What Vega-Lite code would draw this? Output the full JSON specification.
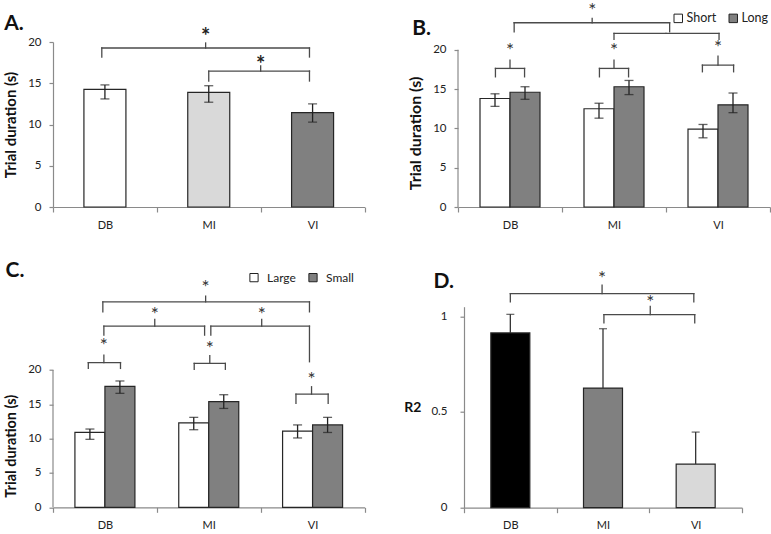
{
  "$schema": "https://vega.github.io/schema/vega-lite/v6.json",
  "padding": {"left": 3, "top": 2, "right": 0, "bottom": 0},
  "autosize": {"type": "pad"},
  "bounds": "flush",
  "columns": 2,
  "spacing": {"row": 99.7, "column": 93},
  "resolve": {"scale": {"x": "independent", "y": "independent", "fill": "independent"}, "legend": {"fill": "independent"}},
  "config": {
    "view": {"stroke": null},
    "font": "Lato",
    "axis": {"grid": false, "domainColor": "#8a8a8a", "tickColor": "#8a8a8a", "domainWidth": 1.2, "tickWidth": 1.2, "labelColor": "#222222", "labelFont": "Lato", "labelFontSize": 11.5, "titleFont": "Lato", "titleFontWeight": "bold", "titleColor": "#111111"},
    "axisX": {"tickBand": "extent", "tickSize": 5, "labelPadding": 7, "labelAngle": 0, "title": null, "labelFontSize": 11},
    "axisY": {"tickSize": 4, "labelPadding": 8},
    "legend": {"labelFont": "Lato", "labelColor": "#222222"}
  },
  "concat": [
    {
      "width": 311.5, "height": 165,
      "resolve": {"scale": {"x": "independent"}},
      "layer": [
        {
          "data": {"values": [
            {"cat": "DB", "v": 14.25, "lo": 13.1, "hi": 14.8},
            {"cat": "MI", "v": 13.9, "lo": 12.7, "hi": 14.7},
            {"cat": "VI", "v": 11.45, "lo": 10.3, "hi": 12.5}
          ]},
          "layer": [
            {"mark": {"type": "bar", "stroke": "#262626", "strokeWidth": 1.2, "size": 42},
             "encoding": {
               "x": {"field": "cat", "type": "nominal", "scale": {"domain": ["DB", "MI", "VI"], "paddingInner": 0, "paddingOuter": 0}},
               "y": {"field": "v", "type": "quantitative", "scale": {"domain": [0, 20], "nice": false}, "axis": {"values": [0, 5, 10, 15, 20], "title": "Trial duration (s)", "titleFontSize": 15, "titlePadding": 9}},
               "fill": {"field": "cat", "type": "nominal", "scale": {"domain": ["DB", "MI", "VI"], "range": ["#ffffff", "#d9d9d9", "#808080"]}, "legend": null}
             }},
            {"mark": {"type": "rule", "color": "#222222", "strokeWidth": 1.3},
             "encoding": {"x": {"field": "cat", "type": "nominal"}, "y": {"field": "lo", "type": "quantitative"}, "y2": {"field": "hi"}}},
            {"mark": {"type": "tick", "color": "#222222", "thickness": 1.3, "size": 9},
             "encoding": {"x": {"field": "cat", "type": "nominal"}, "y": {"field": "lo", "type": "quantitative"}}},
            {"mark": {"type": "tick", "color": "#222222", "thickness": 1.3, "size": 9},
             "encoding": {"x": {"field": "cat", "type": "nominal"}, "y": {"field": "hi", "type": "quantitative"}}}
          ]
        },
        {
          "data": {"values": [
            {"a": 0.47, "b": 2.47, "m": 1.47, "y": 19.27, "la": 18.18, "lb": 18.18, "pk": 19.88, "s": 21.1, "t": "*"},
            {"a": 1.5, "b": 2.47, "m": 2.0, "y": 16.48, "la": 15.27, "lb": 15.27, "pk": 17.1, "s": 17.7, "t": "*"}
          ]},
          "layer": [
            {"mark": {"type": "rule", "color": "#4a4a4a", "strokeWidth": 1.3, "strokeCap": "square"},
             "encoding": {"x": {"field": "a", "type": "quantitative", "scale": {"domain": [0, 3], "nice": false}, "axis": null}, "x2": {"field": "b"}, "y": {"field": "y", "type": "quantitative"}}},
            {"mark": {"type": "rule", "color": "#4a4a4a", "strokeWidth": 1.3, "strokeCap": "square"},
             "encoding": {"x": {"field": "a", "type": "quantitative"}, "y": {"field": "y", "type": "quantitative"}, "y2": {"field": "la"}}},
            {"mark": {"type": "rule", "color": "#4a4a4a", "strokeWidth": 1.3, "strokeCap": "square"},
             "encoding": {"x": {"field": "b", "type": "quantitative"}, "y": {"field": "y", "type": "quantitative"}, "y2": {"field": "lb"}}},
            {"mark": {"type": "rule", "color": "#4a4a4a", "strokeWidth": 1.3, "strokeCap": "square"},
             "encoding": {"x": {"field": "m", "type": "quantitative"}, "y": {"field": "y", "type": "quantitative"}, "y2": {"field": "pk"}}},
            {"mark": {"type": "text", "fill": "#222222", "fontSize": 22, "fontWeight": "bold", "baseline": "middle", "dy": 4},
             "encoding": {"x": {"field": "m", "type": "quantitative"}, "y": {"field": "s", "type": "quantitative"}, "text": {"field": "t"}}},
            {"data": {"values": [{"lbl": "A.", "px": -0.47, "py": 21.45}]},
             "mark": {"type": "text", "fill": "#111111", "fontSize": 21, "fontWeight": "bold", "align": "left", "baseline": "alphabetic"},
             "encoding": {"x": {"field": "px", "type": "quantitative"}, "y": {"field": "py", "type": "quantitative"}, "text": {"field": "lbl"}}}
          ]
        }
      ]
    },
    {
      "width": 312, "height": 165,
      "resolve": {"scale": {"x": "independent"}},
      "layer": [
        {
          "data": {"values": [
            {"cat": "DB", "cond": "Short", "v": 13.8, "lo": 12.8, "hi": 14.4},
            {"cat": "DB", "cond": "Long", "v": 14.6, "lo": 13.7, "hi": 15.3},
            {"cat": "MI", "cond": "Short", "v": 12.5, "lo": 11.3, "hi": 13.2},
            {"cat": "MI", "cond": "Long", "v": 15.3, "lo": 14.3, "hi": 16.1},
            {"cat": "VI", "cond": "Short", "v": 9.9, "lo": 8.8, "hi": 10.5},
            {"cat": "VI", "cond": "Long", "v": 13.0, "lo": 12.0, "hi": 14.5}
          ]},
          "encoding": {
            "x": {"field": "cat", "type": "nominal", "scale": {"domain": ["DB", "MI", "VI"], "paddingInner": 0, "paddingOuter": 0}}
          },
          "layer": [
            {"transform": [{"filter": "datum.cond === 'Short'"}],
             "mark": {"type": "bar", "stroke": "#262626", "strokeWidth": 1.2, "size": 30, "xOffset": -15},
             "encoding": {
               "y": {"field": "v", "type": "quantitative", "scale": {"domain": [0, 20.99], "nice": false}, "axis": {"values": [0, 5, 10, 15, 20], "domain": false, "title": "Trial duration (s)", "titleFontSize": 16, "titlePadding": 9, "titleY": 91}},
               "fill": {"field": "cond", "type": "nominal", "scale": {"domain": ["Short", "Long"], "range": ["#ffffff", "#808080"]},
                 "legend": {"orient": "none", "legendX": 214, "legendY": -30, "direction": "horizontal", "title": null, "symbolType": "square", "symbolSize": 72, "symbolStrokeColor": "#222222", "symbolStrokeWidth": 1, "labelFontSize": 12.5, "columnPadding": 10, "labelOffset": 2}}
             }},
            {"transform": [{"filter": "datum.cond === 'Long'"}],
             "mark": {"type": "bar", "stroke": "#262626", "strokeWidth": 1.2, "size": 30, "xOffset": 15},
             "encoding": {
               "y": {"field": "v", "type": "quantitative"},
               "fill": {"field": "cond", "type": "nominal", "scale": {"domain": ["Short", "Long"], "range": ["#ffffff", "#808080"]},
                 "legend": {"orient": "none", "legendX": 214, "legendY": -30, "direction": "horizontal", "title": null, "symbolType": "square", "symbolSize": 72, "symbolStrokeColor": "#222222", "symbolStrokeWidth": 1, "labelFontSize": 12.5, "columnPadding": 10, "labelOffset": 2}}
             }},
            {"transform": [{"filter": "datum.cond === 'Short'"}],
             "mark": {"type": "rule", "color": "#222222", "strokeWidth": 1.3, "xOffset": -15},
             "encoding": {"y": {"field": "lo", "type": "quantitative"}, "y2": {"field": "hi"}}},
            {"transform": [{"filter": "datum.cond === 'Long'"}],
             "mark": {"type": "rule", "color": "#222222", "strokeWidth": 1.3, "xOffset": 15},
             "encoding": {"y": {"field": "lo", "type": "quantitative"}, "y2": {"field": "hi"}}},
            {"transform": [{"filter": "datum.cond === 'Short'"}],
             "mark": {"type": "tick", "color": "#222222", "thickness": 1.3, "size": 9, "xOffset": -15},
             "encoding": {"y": {"field": "lo", "type": "quantitative"}}},
            {"transform": [{"filter": "datum.cond === 'Short'"}],
             "mark": {"type": "tick", "color": "#222222", "thickness": 1.3, "size": 9, "xOffset": -15},
             "encoding": {"y": {"field": "hi", "type": "quantitative"}}},
            {"transform": [{"filter": "datum.cond === 'Long'"}],
             "mark": {"type": "tick", "color": "#222222", "thickness": 1.3, "size": 9, "xOffset": 15},
             "encoding": {"y": {"field": "lo", "type": "quantitative"}}},
            {"transform": [{"filter": "datum.cond === 'Long'"}],
             "mark": {"type": "tick", "color": "#222222", "thickness": 1.3, "size": 9, "xOffset": 15},
             "encoding": {"y": {"field": "hi", "type": "quantitative"}}}
          ]
        },
        {
          "data": {"values": [
            {"a": 0.54, "b": 2.035, "m": 1.29, "y": 23.44, "la": 22.29, "lb": 22.29, "pk": 24.0, "s": 25.27, "t": "*"},
            {"a": 1.5, "b": 2.51, "m": 2.0, "y": 22.09, "la": 21.32, "lb": 21.32, "pk": 22.09, "s": 22.09, "t": ""},
            {"a": 0.36, "b": 0.64, "m": 0.5, "y": 17.63, "la": 16.56, "lb": 16.56, "pk": 18.69, "s": 20.18, "t": "*"},
            {"a": 1.36, "b": 1.64, "m": 1.5, "y": 17.63, "la": 16.56, "lb": 16.56, "pk": 18.69, "s": 20.18, "t": "*"},
            {"a": 2.35, "b": 2.65, "m": 2.5, "y": 18.05, "la": 17.2, "lb": 17.2, "pk": 19.2, "s": 20.6, "t": "*"}
          ]},
          "layer": [
            {"mark": {"type": "rule", "color": "#4a4a4a", "strokeWidth": 1.3, "strokeCap": "square"},
             "encoding": {"x": {"field": "a", "type": "quantitative", "scale": {"domain": [0, 3], "nice": false}, "axis": null}, "x2": {"field": "b"}, "y": {"field": "y", "type": "quantitative"}}},
            {"mark": {"type": "rule", "color": "#4a4a4a", "strokeWidth": 1.3, "strokeCap": "square"},
             "encoding": {"x": {"field": "a", "type": "quantitative"}, "y": {"field": "y", "type": "quantitative"}, "y2": {"field": "la"}}},
            {"mark": {"type": "rule", "color": "#4a4a4a", "strokeWidth": 1.3, "strokeCap": "square"},
             "encoding": {"x": {"field": "b", "type": "quantitative"}, "y": {"field": "y", "type": "quantitative"}, "y2": {"field": "lb"}}},
            {"mark": {"type": "rule", "color": "#4a4a4a", "strokeWidth": 1.3, "strokeCap": "square"},
             "encoding": {"x": {"field": "m", "type": "quantitative"}, "y": {"field": "y", "type": "quantitative"}, "y2": {"field": "pk"}}},
            {"mark": {"type": "text", "fill": "#333333", "fontSize": 19, "baseline": "middle", "dy": 3},
             "encoding": {"x": {"field": "m", "type": "quantitative"}, "y": {"field": "s", "type": "quantitative"}, "text": {"field": "t"}}},
            {"data": {"values": [{"ax": 0, "y0": 0, "y1": 20}]},
             "mark": {"type": "rule", "color": "#8a8a8a", "strokeWidth": 1.2},
             "encoding": {"x": {"field": "ax", "type": "quantitative"}, "y": {"field": "y0", "type": "quantitative"}, "y2": {"field": "y1"}}},
            {"data": {"values": [{"lbl": "B.", "px": -0.44, "py": 21.9}]},
             "mark": {"type": "text", "fill": "#111111", "fontSize": 21, "fontWeight": "bold", "align": "left", "baseline": "alphabetic"},
             "encoding": {"x": {"field": "px", "type": "quantitative"}, "y": {"field": "py", "type": "quantitative"}, "text": {"field": "lbl"}}}
          ]
        }
      ]
    },
    {
      "width": 311.5, "height": 200.6,
      "resolve": {"scale": {"x": "independent"}},
      "layer": [
        {
          "data": {"values": [
            {"cat": "DB", "rw": "Large", "v": 10.9, "lo": 9.9, "hi": 11.4},
            {"cat": "DB", "rw": "Small", "v": 17.6, "lo": 16.6, "hi": 18.4},
            {"cat": "MI", "rw": "Large", "v": 12.3, "lo": 11.3, "hi": 13.1},
            {"cat": "MI", "rw": "Small", "v": 15.4, "lo": 14.4, "hi": 16.4},
            {"cat": "VI", "rw": "Large", "v": 11.1, "lo": 10.1, "hi": 12.0},
            {"cat": "VI", "rw": "Small", "v": 12.0, "lo": 10.9, "hi": 13.1}
          ]},
          "encoding": {
            "x": {"field": "cat", "type": "nominal", "scale": {"domain": ["DB", "MI", "VI"], "paddingInner": 0, "paddingOuter": 0}}
          },
          "layer": [
            {"transform": [{"filter": "datum.rw === 'Large'"}],
             "mark": {"type": "bar", "stroke": "#262626", "strokeWidth": 1.2, "size": 30, "xOffset": -15},
             "encoding": {
               "y": {"field": "v", "type": "quantitative", "scale": {"domain": [0, 29.22], "nice": false}, "axis": {"values": [0, 5, 10, 15, 20], "domain": false, "title": "Trial duration (s)", "titleFontSize": 14.5, "titlePadding": 9, "titleY": 139}},
               "fill": {"field": "rw", "type": "nominal", "scale": {"domain": ["Large", "Small"], "range": ["#ffffff", "#808080"]},
                 "legend": {"orient": "none", "legendX": 195, "legendY": -35.5, "direction": "horizontal", "title": null, "symbolType": "square", "symbolSize": 68, "symbolStrokeColor": "#222222", "symbolStrokeWidth": 1, "labelFontSize": 12, "columnPadding": 10, "labelOffset": 7}}
             }},
            {"transform": [{"filter": "datum.rw === 'Small'"}],
             "mark": {"type": "bar", "stroke": "#262626", "strokeWidth": 1.2, "size": 30, "xOffset": 15},
             "encoding": {
               "y": {"field": "v", "type": "quantitative"},
               "fill": {"field": "rw", "type": "nominal", "scale": {"domain": ["Large", "Small"], "range": ["#ffffff", "#808080"]},
                 "legend": {"orient": "none", "legendX": 195, "legendY": -35.5, "direction": "horizontal", "title": null, "symbolType": "square", "symbolSize": 68, "symbolStrokeColor": "#222222", "symbolStrokeWidth": 1, "labelFontSize": 12, "columnPadding": 10, "labelOffset": 7}}
             }},
            {"transform": [{"filter": "datum.rw === 'Large'"}],
             "mark": {"type": "rule", "color": "#222222", "strokeWidth": 1.3, "xOffset": -15},
             "encoding": {"y": {"field": "lo", "type": "quantitative"}, "y2": {"field": "hi"}}},
            {"transform": [{"filter": "datum.rw === 'Small'"}],
             "mark": {"type": "rule", "color": "#222222", "strokeWidth": 1.3, "xOffset": 15},
             "encoding": {"y": {"field": "lo", "type": "quantitative"}, "y2": {"field": "hi"}}},
            {"transform": [{"filter": "datum.rw === 'Large'"}],
             "mark": {"type": "tick", "color": "#222222", "thickness": 1.3, "size": 9, "xOffset": -15},
             "encoding": {"y": {"field": "lo", "type": "quantitative"}}},
            {"transform": [{"filter": "datum.rw === 'Large'"}],
             "mark": {"type": "tick", "color": "#222222", "thickness": 1.3, "size": 9, "xOffset": -15},
             "encoding": {"y": {"field": "hi", "type": "quantitative"}}},
            {"transform": [{"filter": "datum.rw === 'Small'"}],
             "mark": {"type": "tick", "color": "#222222", "thickness": 1.3, "size": 9, "xOffset": 15},
             "encoding": {"y": {"field": "lo", "type": "quantitative"}}},
            {"transform": [{"filter": "datum.rw === 'Small'"}],
             "mark": {"type": "tick", "color": "#222222", "thickness": 1.3, "size": 9, "xOffset": 15},
             "encoding": {"y": {"field": "hi", "type": "quantitative"}}}
          ]
        },
        {
          "data": {"values": [
            {"a": 0.48, "b": 2.47, "m": 1.47, "y": 29.93, "la": 28.47, "lb": 28.47, "pk": 30.76, "s": 32.36, "t": "*"},
            {"a": 0.49, "b": 1.46, "m": 0.98, "y": 26.39, "la": 25.08, "lb": 25.08, "pk": 27.37, "s": 28.47, "t": "*"},
            {"a": 1.52, "b": 2.47, "m": 2.01, "y": 26.39, "la": 25.08, "lb": 21.2, "pk": 27.37, "s": 28.47, "t": "*"},
            {"a": 0.34, "b": 0.65, "m": 0.49, "y": 21.08, "la": 20.23, "lb": 20.23, "pk": 22.17, "s": 23.87, "t": "*"},
            {"a": 1.36, "b": 1.66, "m": 1.51, "y": 20.96, "la": 20.1, "lb": 20.1, "pk": 22.1, "s": 23.48, "t": "*"},
            {"a": 2.34, "b": 2.65, "m": 2.49, "y": 16.49, "la": 15.14, "lb": 15.14, "pk": 17.56, "s": 19.01, "t": "*"}
          ]},
          "layer": [
            {"mark": {"type": "rule", "color": "#4a4a4a", "strokeWidth": 1.3, "strokeCap": "square"},
             "encoding": {"x": {"field": "a", "type": "quantitative", "scale": {"domain": [0, 3], "nice": false}, "axis": null}, "x2": {"field": "b"}, "y": {"field": "y", "type": "quantitative"}}},
            {"mark": {"type": "rule", "color": "#4a4a4a", "strokeWidth": 1.3, "strokeCap": "square"},
             "encoding": {"x": {"field": "a", "type": "quantitative"}, "y": {"field": "y", "type": "quantitative"}, "y2": {"field": "la"}}},
            {"mark": {"type": "rule", "color": "#4a4a4a", "strokeWidth": 1.3, "strokeCap": "square"},
             "encoding": {"x": {"field": "b", "type": "quantitative"}, "y": {"field": "y", "type": "quantitative"}, "y2": {"field": "lb"}}},
            {"mark": {"type": "rule", "color": "#4a4a4a", "strokeWidth": 1.3, "strokeCap": "square"},
             "encoding": {"x": {"field": "m", "type": "quantitative"}, "y": {"field": "y", "type": "quantitative"}, "y2": {"field": "pk"}}},
            {"mark": {"type": "text", "fill": "#333333", "fontSize": 19, "baseline": "middle", "dy": 3},
             "encoding": {"x": {"field": "m", "type": "quantitative"}, "y": {"field": "s", "type": "quantitative"}, "text": {"field": "t"}}},
            {"data": {"values": [{"ax": 0, "y0": 0, "y1": 20}]},
             "mark": {"type": "rule", "color": "#8a8a8a", "strokeWidth": 1.2},
             "encoding": {"x": {"field": "ax", "type": "quantitative"}, "y": {"field": "y0", "type": "quantitative"}, "y2": {"field": "y1"}}},
            {"data": {"values": [{"lbl": "C.", "px": -0.457, "py": 33.55}]},
             "mark": {"type": "text", "fill": "#111111", "fontSize": 21, "fontWeight": "bold", "align": "left", "baseline": "alphabetic"},
             "encoding": {"x": {"field": "px", "type": "quantitative"}, "y": {"field": "py", "type": "quantitative"}, "text": {"field": "lbl"}}}
          ]
        }
      ]
    },
    {
      "width": 284, "height": 201,
      "resolve": {"scale": {"x": "independent"}},
      "layer": [
        {
          "data": {"values": [
            {"grp": "DB", "v": 0.913, "hi": 1.01},
            {"grp": "MI", "v": 0.625, "hi": 0.935},
            {"grp": "VI", "v": 0.228, "hi": 0.395}
          ]},
          "layer": [
            {"mark": {"type": "bar", "stroke": "#262626", "strokeWidth": 1.2, "size": 39},
             "encoding": {
               "x": {"field": "grp", "type": "nominal", "scale": {"domain": ["DB", "MI", "VI"], "paddingInner": 0, "paddingOuter": 0, "range": [6, 284]}},
               "y": {"field": "v", "type": "quantitative", "scale": {"domain": [0, 1.05], "nice": false}, "axis": {"values": [0, 0.5, 1], "format": "~g", "offset": -6, "labelPadding": 13, "title": "R2", "titleAngle": 0, "titleFontSize": 14, "titleBaseline": "middle", "titleAlign": "right", "titlePadding": 10}},
               "fill": {"field": "grp", "type": "nominal", "scale": {"domain": ["DB", "MI", "VI"], "range": ["#000000", "#808080", "#d9d9d9"]}, "legend": null}
             }},
            {"mark": {"type": "rule", "color": "#333333", "strokeWidth": 1.3},
             "encoding": {"x": {"field": "grp", "type": "nominal"}, "y": {"field": "v", "type": "quantitative"}, "y2": {"field": "hi"}}},
            {"mark": {"type": "tick", "color": "#333333", "thickness": 1.3, "size": 8},
             "encoding": {"x": {"field": "grp", "type": "nominal"}, "y": {"field": "hi", "type": "quantitative"}}}
          ]
        },
        {
          "data": {"values": [
            {"a": 0.5, "b": 2.48, "m": 1.49, "y": 1.118, "la": 1.075, "lb": 1.075, "pk": 1.162, "s": 1.209, "t": "*"},
            {"a": 1.51, "b": 2.49, "m": 2.01, "y": 1.009, "la": 0.965, "lb": 0.965, "pk": 1.052, "s": 1.083, "t": "*"}
          ]},
          "layer": [
            {"mark": {"type": "rule", "color": "#4a4a4a", "strokeWidth": 1.3, "strokeCap": "square"},
             "encoding": {"x": {"field": "a", "type": "quantitative", "scale": {"domain": [0, 3], "nice": false, "range": [6, 284]}, "axis": null}, "x2": {"field": "b"}, "y": {"field": "y", "type": "quantitative"}}},
            {"mark": {"type": "rule", "color": "#4a4a4a", "strokeWidth": 1.3, "strokeCap": "square"},
             "encoding": {"x": {"field": "a", "type": "quantitative"}, "y": {"field": "y", "type": "quantitative"}, "y2": {"field": "la"}}},
            {"mark": {"type": "rule", "color": "#4a4a4a", "strokeWidth": 1.3, "strokeCap": "square"},
             "encoding": {"x": {"field": "b", "type": "quantitative"}, "y": {"field": "y", "type": "quantitative"}, "y2": {"field": "lb"}}},
            {"mark": {"type": "rule", "color": "#4a4a4a", "strokeWidth": 1.3, "strokeCap": "square"},
             "encoding": {"x": {"field": "m", "type": "quantitative"}, "y": {"field": "y", "type": "quantitative"}, "y2": {"field": "pk"}}},
            {"mark": {"type": "text", "fill": "#333333", "fontSize": 19, "baseline": "middle", "dy": 3},
             "encoding": {"x": {"field": "m", "type": "quantitative"}, "y": {"field": "s", "type": "quantitative"}, "text": {"field": "t"}}},
            {"data": {"values": [{"lbl": "D.", "px": -0.33, "py": 1.15}]},
             "mark": {"type": "text", "fill": "#111111", "fontSize": 21, "fontWeight": "bold", "align": "left", "baseline": "alphabetic"},
             "encoding": {"x": {"field": "px", "type": "quantitative"}, "y": {"field": "py", "type": "quantitative"}, "text": {"field": "lbl"}}}
          ]
        }
      ]
    }
  ]
}
